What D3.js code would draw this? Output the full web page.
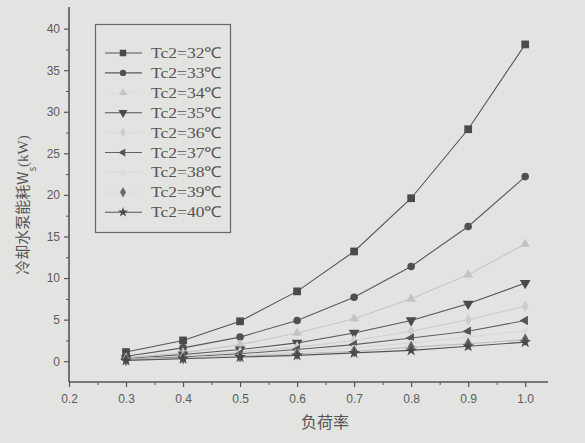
<!DOCTYPE html>
<html>
<head>
<meta charset="utf-8">
<script src="https://cdn.jsdelivr.net/npm/d3@7"></script>
<style>
  body { margin: 0; background: #e3e3e1; }
  svg { display: block; }
</style>
</head>
<body>
<svg id="chart" width="585" height="443"></svg>
<script>
const loadRate = [0.3, 0.4, 0.5, 0.6, 0.7, 0.8, 0.9, 1.0];
const tc32 = [1.1, 2.5, 4.8, 8.4, 13.2, 19.6, 27.9, 38.1];
const tc33 = [0.6, 1.6, 2.9, 4.9, 7.7, 11.4, 16.2, 22.2];
const tc34 = [0.4, 1.0, 2.0, 3.4, 5.1, 7.5, 10.4, 14.1];
const tc35 = [0.3, 0.8, 1.4, 2.2, 3.4, 4.9, 6.9, 9.4];
const tc36 = [0.25, 0.6, 1.1, 1.7, 2.5, 3.6, 5.0, 6.6];
const tc37 = [0.2, 0.5, 0.9, 1.4, 2.0, 2.8, 3.6, 4.9];
const tc38 = [0.2, 0.4, 0.7, 1.1, 1.6, 2.2, 2.9, 3.7];
const tc39 = [0.15, 0.35, 0.6, 0.9, 1.2, 1.7, 2.1, 2.6];
const tc40 = [0.1, 0.3, 0.5, 0.7, 1.0, 1.3, 1.8, 2.3];
const seriesNames = ["Tc2=32℃", "Tc2=33℃", "Tc2=34℃", "Tc2=35℃", "Tc2=36℃",
                     "Tc2=37℃", "Tc2=38℃", "Tc2=39℃", "Tc2=40℃"];
const xTicks = [0.2, 0.3, 0.4, 0.5, 0.6, 0.7, 0.8, 0.9, 1.0];
const yTicks = [0, 5, 10, 15, 20, 25, 30, 35, 40];

// look of each series (grayscale scan of the original colours)
const styles = [
  { sym: d3.symbolSquare, size: 60, rot: 0, color: "#4a4a4a", line: "#555" },
  { sym: d3.symbolCircle, size: 45, rot: 0, color: "#505050", line: "#5a5a5a" },
  { sym: d3.symbolTriangle, size: 40, rot: 0, color: "#c4c4c4", line: "#c6c6c6" },
  { sym: d3.symbolTriangle, size: 50, rot: 180, color: "#4a4a4a", line: "#555" },
  { sym: d3.symbolDiamond, size: 40, rot: 0, color: "#cdcdcd", line: "#cfcfcf" },
  { sym: d3.symbolTriangle, size: 40, rot: -90, color: "#555", line: "#606060" },
  { sym: d3.symbolCircle, size: 30, rot: 0, color: "#dadada", line: "#d8d8d8" },
  { sym: d3.symbolDiamond, size: 45, rot: 0, color: "#6a6a6a", line: "#bdbdbd" },
  { sym: d3.symbolStar, size: 45, rot: 0, color: "#4a4a4a", line: "#555" }
];
const allSeries = [tc32, tc33, tc34, tc35, tc36, tc37, tc38, tc39, tc40];

const svg = d3.select("#chart");

const x = d3.scaleLinear().domain([0.2, 1.04]).range([69, 548]);
const y = d3.scaleLinear().domain([-2.5, 42.6]).range([382, 7]);

const axisColor = "#555";
const labelColor = "#5c5c5c";

// x axis
const xAxis = svg.append("g").attr("transform", `translate(0,${y(-2.5)})`);
xAxis.append("line").attr("x1", x(0.2)).attr("x2", x(1.04))
  .attr("stroke", axisColor).attr("stroke-width", 1.6);
xAxis.call(g => g.append("g").call(d3.axisBottom(x).tickValues(xTicks).tickSize(5)
    .tickFormat(d3.format(".1f")))
  .call(g2 => {
    g2.selectAll(".domain").remove();
    g2.selectAll("line").attr("stroke", axisColor).attr("stroke-width", 1.2);
    g2.selectAll("text").attr("fill", labelColor)
      .style("font-family", "Liberation Sans, Arial, sans-serif").style("font-size", "12px")
      .attr("dy", "1.1em");
  }));
xAxis.append("g").call(d3.axisBottom(x)
    .tickValues(d3.range(0.25, 1.0, 0.1)).tickSize(3).tickFormat(""))
  .call(g => {
    g.selectAll(".domain").remove();
    g.selectAll("line").attr("stroke", axisColor);
  });

// y axis
const yAxis = svg.append("g").attr("transform", `translate(${x(0.2)},0)`);
yAxis.append("line").attr("y1", y(-2.5)).attr("y2", y(42.6))
  .attr("stroke", axisColor).attr("stroke-width", 1.6);
yAxis.append("g").call(d3.axisLeft(y).tickValues(yTicks).tickSize(5))
  .call(g => {
    g.selectAll(".domain").remove();
    g.selectAll("line").attr("stroke", axisColor).attr("stroke-width", 1.2);
    g.selectAll("text").attr("fill", labelColor).attr("x", -9)
      .style("font-family", "Liberation Sans, Arial, sans-serif").style("font-size", "12px");
  });
yAxis.append("g").call(d3.axisLeft(y)
    .tickValues(d3.range(2.5, 40, 5)).tickSize(3).tickFormat(""))
  .call(g => {
    g.selectAll(".domain").remove();
    g.selectAll("line").attr("stroke", axisColor);
  });

// axis titles
svg.append("text")
  .attr("x", 325).attr("y", 428)
  .attr("text-anchor", "middle")
  .attr("fill", "#555")
  .style("font-family", "Noto Sans CJK SC, sans-serif").style("font-size", "16px")
  .text("负荷率");

const yTitle = svg.append("text")
  .attr("transform", "translate(28,205) rotate(-90)")
  .attr("text-anchor", "middle")
  .attr("fill", "#555")
  .style("font-family", "Noto Sans CJK SC, sans-serif").style("font-size", "15px");
yTitle.append("tspan").text("冷却水泵能耗W");
yTitle.append("tspan").attr("baseline-shift", "sub").style("font-size", "10px").text("s");
yTitle.append("tspan").style("font-family", "Liberation Serif, serif").text("(kW)");

// series
const line = d3.line().x((d, i) => x(loadRate[i])).y(d => y(d));

allSeries.forEach((values, k) => {
  const st = styles[k];
  svg.append("path")
    .datum(values)
    .attr("fill", "none")
    .attr("stroke", st.line)
    .attr("stroke-width", 1.1)
    .attr("d", line);
  svg.append("g").selectAll("path")
    .data(values)
    .join("path")
    .attr("transform", (d, i) => `translate(${x(loadRate[i])},${y(d)}) rotate(${st.rot})`)
    .attr("d", d3.symbol().type(st.sym).size(st.size))
    .attr("fill", st.color);
});

// legend
const legend = svg.append("g");
legend.append("rect")
  .attr("x", 95.5).attr("y", 24.5).attr("width", 135).attr("height", 208)
  .attr("fill", "none").attr("stroke", "#666").attr("stroke-width", 1.2);

seriesNames.forEach((name, k) => {
  const st = styles[k];
  const ry = 53 + k * 19.9;
  const hideLine = (k === 2 || k === 4 || k === 6 || k === 7);
  legend.append("line")
    .attr("x1", 105).attr("x2", 142).attr("y1", ry).attr("y2", ry)
    .attr("stroke", hideLine ? "#dcdcdc" : st.line).attr("stroke-width", 1.1);
  legend.append("path")
    .attr("transform", `translate(123,${ry}) rotate(${st.rot})`)
    .attr("d", d3.symbol().type(st.sym).size(st.size * 0.7))
    .attr("fill", st.color);
  legend.append("text")
    .attr("x", 151).attr("y", ry + 5)
    .attr("fill", "#555")
    .style("font-family", "Liberation Serif, Times New Roman, serif").style("font-size", "15px")
    .attr("textLength", 71).attr("lengthAdjust", "spacingAndGlyphs")
    .text(name);
});
</script>
</body>
</html>
